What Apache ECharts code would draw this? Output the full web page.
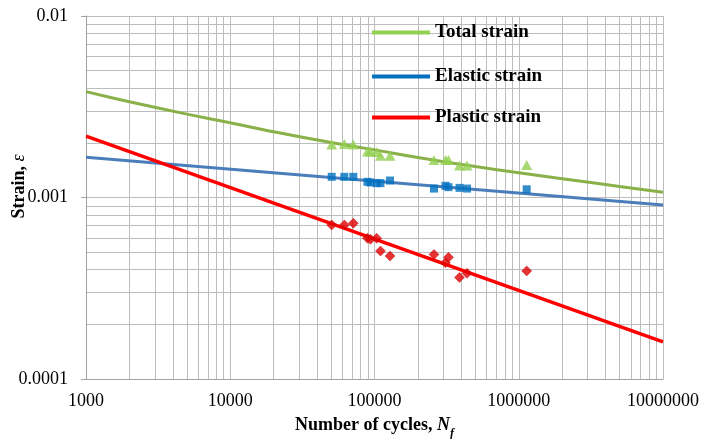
<!DOCTYPE html>
<html>
<head>
<meta charset="utf-8">
<script src="https://cdn.jsdelivr.net/npm/echarts@6/dist/echarts.min.js"></script>
<style>html,body{margin:0;padding:0;background:#fff}#c{width:703px;height:439px}</style>
</head>
<body>
<div id="c"></div>
<script>
// measured specimens
var cycles        = [50500, 61800, 71300, 89400, 93800, 103500, 110000, 128100, 258400, 310600, 325800, 388400, 437700, 1135000];
var totalStrain   = [0.00196, 0.00197, 0.00196, 0.00179, 0.00179, 0.00178, 0.00170, 0.00170, 0.00161, 0.00161, 0.00161, 0.00150, 0.00150, 0.00151];
var elasticStrain = [0.00130, 0.00130, 0.00130, 0.00122, 0.00121, 0.00120, 0.00120, 0.00124, 0.00112, 0.00116, 0.00114, 0.00113, 0.00112, 0.00111];
var plasticStrain = [0.000706, 0.000706, 0.000721, 0.000596, 0.000588, 0.000596, 0.000507, 0.000476, 0.000486, 0.000437, 0.000468, 0.000363, 0.000382, 0.000394];
// fitted curves
var fitCycles     = [1000, 10000000];
var elasticFit    = [0.001665, 0.000909];
var plasticFit    = [0.00218, 0.000160];
var totalFitCycles = [1000, 2000, 5000, 10000, 20000, 50000, 100000, 200000, 500000, 1000000, 2000000, 5000000, 10000000];
var totalFit       = [0.00383, 0.00337, 0.00288, 0.00258, 0.00230, 0.00201, 0.00183, 0.00166, 0.00148, 0.00137, 0.00127, 0.00115, 0.00107];
// axes
var xMin = 1000, xMax = 10000000;
var yMin = 0.0001, yMax = 0.01;
var seriesNames = ['Total strain', 'Elastic strain', 'Plastic strain'];

function pairs(xs, ys){ return xs.map(function(x,i){ return [x, ys[i]]; }); }

var gridColor = '#bdbdbd';
var font = 'Liberation Serif';
function fmt(v){ return String(Number(v.toPrecision(6))); }

var chart = echarts.init(document.getElementById('c'), null, {renderer:'canvas'});
function legendAt(i, top, color){
  return {
    left: 372, top: top, padding: 0, orient: 'vertical',
    icon: 'rect', itemWidth: 58, itemHeight: 4, itemGap: 0,
    selectedMode: false,
    data: [{name: seriesNames[i], itemStyle: {color: color}}],
    textStyle: {fontFamily: font, fontWeight: 'bold', fontSize: 19, color: '#000'}
  };
}
chart.setOption({
  animation: false,
  backgroundColor: '#fff',
  grid: {left: 86, right: 40, top: 16, bottom: 60, outerBoundsMode: 'none', containLabel: false},
  legend: [legendAt(0, 23, '#92D050'), legendAt(1, 67, '#0070C0'), legendAt(2, 108, '#FF0000')],
  xAxis: {
    type: 'log', logBase: 10, min: xMin, max: xMax,
    axisLine: {show: true, lineStyle: {color: '#a0a0a0', width: 1}},
    axisTick: {show: false},
    minorTick: {show: false, splitNumber: 9},
    splitLine: {show: true, lineStyle: {color: gridColor, width: 1}},
    minorSplitLine: {show: true, lineStyle: {color: gridColor, width: 1}},
    axisLabel: {formatter: fmt, fontFamily: font, fontSize: 18, color: '#000', margin: 13},
    name: '{b|Number of cycles, }{i|N}{s|f}',
    nameLocation: 'middle', nameGap: 37, nameMoveOverlap: false,
    nameTextStyle: {
      rich: {
        b: {fontFamily: font, fontWeight: 'bold', fontSize: 18, color: '#000'},
        i: {fontFamily: font, fontWeight: 'bold', fontStyle: 'italic', fontSize: 18, color: '#000'},
        s: {fontFamily: font, fontWeight: 'bold', fontStyle: 'italic', fontSize: 12, color: '#000', verticalAlign: 'bottom', padding: [0,0,-6,0]}
      }
    }
  },
  yAxis: {
    type: 'log', logBase: 10, min: yMin, max: yMax,
    axisLine: {show: true, lineStyle: {color: '#a0a0a0', width: 1}},
    axisTick: {show: true, length: 5, lineStyle: {color: '#a0a0a0'}},
    minorTick: {show: false, splitNumber: 9},
    splitLine: {show: true, lineStyle: {color: gridColor, width: 1}},
    minorSplitLine: {show: true, lineStyle: {color: gridColor, width: 1}},
    axisLabel: {formatter: fmt, fontFamily: font, fontSize: 18, color: '#000', margin: 18},
    name: '{b|Strain, }{i|ε}',
    nameLocation: 'middle', nameGap: 58, nameMoveOverlap: false,
    nameTextStyle: {
      padding: [0, 0, 0, 22],
      rich: {
        b: {fontFamily: font, fontWeight: 'bold', fontSize: 18, color: '#000'},
        i: {fontFamily: font, fontStyle: 'italic', fontSize: 18, color: '#000'}
      }
    }
  },
  series: [
    {type: 'line', name: 'Total strain', data: pairs(totalFitCycles, totalFit), showSymbol: false, smooth: 0.3,
      lineStyle: {color: '#8AB04A', width: 3}, itemStyle: {color: '#8AB04A'}, z: 3},
    {type: 'line', name: 'Elastic strain', data: pairs(fitCycles, elasticFit), showSymbol: false,
      lineStyle: {color: '#4A7EBB', width: 3}, itemStyle: {color: '#4A7EBB'}, z: 3},
    {type: 'line', name: 'Plastic strain', data: pairs(fitCycles, plasticFit), showSymbol: false,
      lineStyle: {color: '#FF0000', width: 3.5}, itemStyle: {color: '#FF0000'}, z: 3},
    {type: 'scatter', name: 'Total strain', data: pairs(cycles, totalStrain), symbol: 'triangle', symbolSize: [11, 10],
      itemStyle: {color: '#92D050'}, z: 5},
    {type: 'scatter', name: 'Elastic strain', data: pairs(cycles, elasticStrain), symbol: 'rect', symbolSize: 8,
      itemStyle: {color: '#0070C0'}, z: 5},
    {type: 'scatter', name: 'Plastic strain', data: pairs(cycles, plasticStrain), symbol: 'diamond', symbolSize: 10,
      itemStyle: {color: '#E00000', borderColor: '#C00000', borderWidth: 0.5}, z: 5}
  ]
});
</script>
</body>
</html>
